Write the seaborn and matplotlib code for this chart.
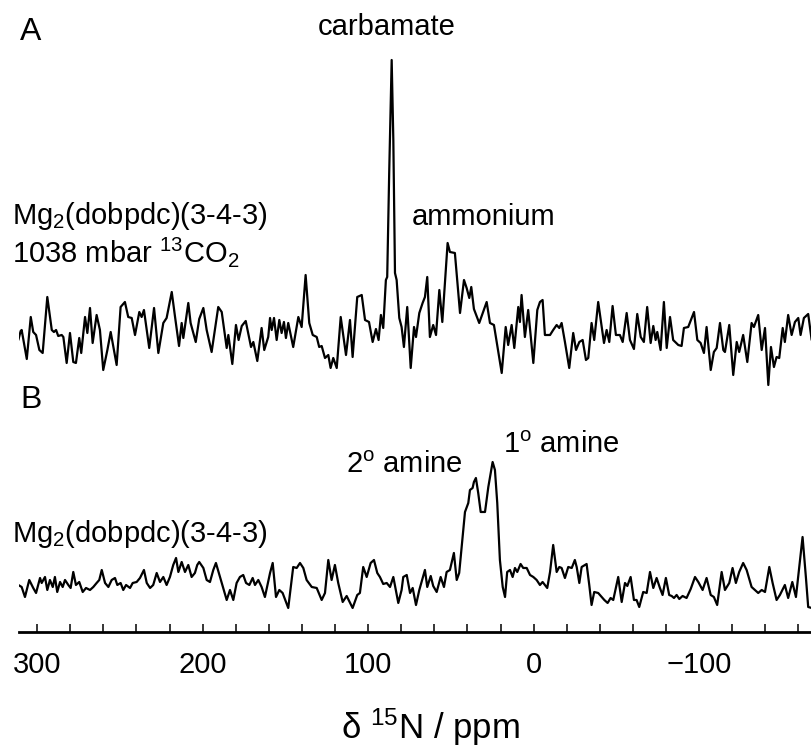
import numpy as np
import pandas as pd
import matplotlib
matplotlib.use("Agg")
import matplotlib.pyplot as plt
import seaborn as sns
from matplotlib.ticker import MultipleLocator

# ---------------- data ----------------
# Spectrum A: Mg2(dobpdc)(3-4-3) under 1038 mbar 13CO2
ppm_a = [311.4, 310.0, 309.4, 306.3, 303.9, 302.4, 300.7, 298.7, 296.7, 293.9,
         291.2, 289.9, 288.6, 287.3, 285.2, 284.2, 282.2, 280.2, 278.2, 276.6,
         274.6, 273.4, 271.1, 269.7, 268.1, 266.5, 264.1, 262.1, 260.1, 257.6,
         255.6, 252.0, 249.6, 247.0, 245.0, 242.9, 240.9, 238.3, 236.9, 235.5,
         232.3, 229.4, 226.8, 223.8, 221.8, 218.7, 216.7, 214.3, 212.7, 211.7,
         208.7, 207.3, 204.2, 202.1, 199.6, 197.6, 194.6, 190.6, 188.5, 185.5,
         184.5, 182.1, 179.9, 178.3, 176.4, 174.0, 170.8, 169.4, 167.0, 164.4,
         162.8, 160.4, 159.3, 158.3, 156.9, 155.3, 153.7, 152.3, 150.9, 149.7,
         148.3, 145.3, 142.2, 140.2, 137.8, 135.6, 133.5, 131.1, 129.6, 128.1,
         126.1, 124.1, 122.7, 121.1, 119.0, 116.6, 113.4, 111.0, 109.4, 106.6,
         103.9, 101.9, 99.5, 97.3, 95.3, 93.7, 92.3, 90.9, 89.3, 88.5,
         87.3, 85.8, 84.8, 83.8, 82.8, 81.2, 79.8, 78.4, 76.4, 74.3,
         72.3, 71.1, 69.1, 67.1, 65.7, 64.3, 62.7, 60.7, 59.0, 57.0,
         55.2, 52.0, 50.6, 47.6, 44.5, 42.1, 40.5, 38.9, 37.7, 36.1,
         32.9, 28.4, 26.4, 24.0, 19.3, 16.9, 15.4, 13.3, 11.7, 9.3,
         8.3, 7.3, 5.3, 3.3, 0.2, -2.2, -3.8, -5.4, -6.8, -9.9,
         -11.8, -13.9, -15.5, -16.9, -18.9, -21.5, -23.9, -25.6, -27.6, -29.6,
         -31.6, -33.0, -35.0, -36.6, -39.0, -42.5, -44.1, -45.7, -47.7, -49.7,
         -52.1, -53.8, -56.2, -58.2, -60.6, -62.6, -64.7, -66.6, -68.6, -70.7,
         -72.3, -73.7, -74.7, -76.7, -78.7, -80.4, -82.4, -84.3, -87.4, -89.4,
         -90.8, -93.4, -96.9, -98.9, -100.9, -102.9, -104.5, -107.0, -108.9, -110.6,
         -112.6, -114.6, -115.6, -118.2, -120.6, -122.7, -124.2, -126.6, -129.1, -131.7,
         -133.1, -135.7, -137.8, -139.8, -141.8, -143.4, -145.2, -146.8, -148.4, -150.5,
         -151.8, -153.8, -155.9, -157.9, -159.9, -161.3, -163.3, -165.9, -168.0]
int_a = [30, 39, 40, 11, 53, 38, 35, 20, 17, 73,
         40, 38, 40, 34, 35, 33, 7, 37, 8, 7,
         32, 17, 53, 37, 62, 27, 55, 40, 0, 20,
         38, 5, 63, 68, 53, 52, 35, 58, 53, 60,
         22, 62, 17, 47, 52, 78, 53, 24, 47, 32,
         67, 47, 28, 51, 62, 40, 18, 63, 58, 22,
         35, 6, 45, 30, 44, 49, 23, 28, 9, 42,
         20, 33, 52, 40, 52, 30, 50, 37, 48, 32,
         47, 23, 53, 43, 95, 47, 35, 33, 23, 24,
         12, 15, 2, 12, 2, 53, 15, 50, 13, 73,
         75, 50, 48, 28, 41, 30, 55, 42, 90, 93,
         197, 310, 230, 97, 90, 52, 43, 23, 63, 2,
         43, 33, 57, 67, 73, 93, 33, 45, 35, 80,
         48, 127, 118, 117, 57, 90, 82, 72, 83, 61,
         47, 68, 47, 45, -3, 43, 25, 45, 22, 63,
         48, 75, 33, 60, 7, 60, 68, 70, 35, 35,
         40, 45, 42, 47, 28, 2, 37, 20, 28, 30,
         10, 12, 47, 30, 68, 27, 40, 28, 64, 35,
         35, 28, 57, 30, 21, 56, 33, 28, 63, 27,
         44, 30, 38, 20, 68, 22, 53, 30, 25, 24,
         42, 43, 58, 30, 27, 17, 43, 0, 18, 22,
         47, 20, 18, 45, -5, 28, 18, 35, 8, 47,
         43, 55, 20, 42, -15, 23, 3, 13, 12, 42,
         28, 55, 35, 48, 52, 35, 52, 56, 30]

# Spectrum B: Mg2(dobpdc)(3-4-3)
ppm_b = [311.4, 309.4, 307.4, 304.8, 302.4, 300.7, 298.3, 297.3, 295.3, 293.9,
         292.3, 290.6, 289.3, 287.9, 286.2, 284.6, 283.2, 281.2, 279.8, 278.2,
         276.6, 274.6, 272.5, 270.5, 268.1, 266.1, 264.1, 262.5, 261.0, 259.0,
         257.0, 255.0, 253.0, 251.6, 249.6, 248.0, 246.3, 243.9, 242.3, 239.9,
         237.9, 235.5, 233.8, 231.8, 229.9, 227.8, 225.8, 223.8, 221.8, 219.8,
         217.8, 216.1, 214.7, 212.7, 210.7, 208.7, 206.7, 204.7, 203.3, 202.1,
         199.6, 197.6, 195.6, 193.6, 192.0, 189.5, 187.6, 185.5, 183.5, 181.5,
         179.5, 177.5, 175.5, 173.8, 171.8, 169.8, 168.4, 166.4, 164.4, 162.4,
         159.3, 157.7, 155.7, 153.7, 151.7, 148.3, 145.3, 143.2, 141.2, 139.2,
         137.2, 134.1, 131.1, 128.1, 126.1, 124.1, 122.1, 120.1, 118.1, 115.4,
         113.0, 109.4, 106.6, 105.0, 103.0, 100.9, 98.5, 96.5, 94.5, 92.9,
         90.9, 88.8, 86.8, 84.8, 81.8, 79.8, 78.8, 76.7, 74.7, 73.1,
         71.1, 69.1, 65.7, 64.3, 62.2, 60.7, 58.6, 56.2, 54.2, 52.6,
         50.6, 48.2, 46.5, 45.0, 43.5, 41.5, 39.5, 38.5, 36.9, 36.1,
         34.9, 33.5, 32.0, 29.4, 27.4, 24.8, 23.4, 22.0, 20.4, 18.7,
         17.3, 16.0, 14.3, 12.7, 11.3, 9.9, 7.9, 6.3, 4.2, 2.2,
         0.2, -1.8, -3.8, -5.4, -8.2, -9.9, -11.8, -13.9, -15.5, -16.9,
         -18.9, -20.9, -23.0, -24.9, -26.0, -27.6, -29.0, -32.0, -33.6, -35.0,
         -36.6, -39.0, -41.1, -42.7, -44.7, -46.5, -48.1, -51.1, -53.2, -55.2,
         -56.6, -58.6, -60.6, -62.2, -63.8, -66.2, -68.3, -70.3, -72.3, -74.3,
         -76.3, -77.9, -79.9, -81.9, -83.4, -84.8, -86.4, -88.0, -90.0, -92.4,
         -94.9, -97.5, -99.5, -102.1, -104.5, -107.0, -108.9, -110.9, -113.6, -115.6,
         -118.2, -120.2, -122.2, -124.2, -126.6, -128.7, -131.7, -133.7, -135.7, -137.8,
         -139.8, -142.4, -144.4, -146.8, -148.8, -151.8, -153.8, -156.3, -158.5, -160.5,
         -162.5, -164.5, -165.9, -168.0]
int_b = [25, 23, 13, 30, 22, 17, 32, 27, 33, 20,
         30, 23, 33, 18, 28, 23, 30, 25, 22, 38,
         25, 28, 18, 22, 20, 23, 27, 30, 40, 27,
         23, 30, 32, 25, 27, 20, 25, 22, 27, 28,
         32, 40, 27, 22, 25, 37, 28, 33, 25, 33,
         45, 52, 38, 48, 38, 45, 33, 37, 45, 48,
         42, 30, 28, 40, 47, 33, 22, 10, 20, 10,
         27, 33, 35, 27, 25, 32, 25, 30, 23, 13,
         37, 47, 13, 20, 17, 2, 43, 42, 47, 42,
         30, 23, 22, 10, 17, 50, 30, 45, 27, 8,
         14, 2, 15, 17, 43, 33, 47, 50, 37, 33,
         26, 27, 23, 33, 7, 20, 33, 35, 17, 22,
         5, 20, 40, 23, 34, 24, 18, 33, 23, 38,
         40, 57, 30, 37, 63, 98, 107, 120, 122, 128,
         132, 117, 98, 98, 123, 148, 140, 107, 50, 23,
         13, 38, 40, 33, 42, 38, 46, 42, 42, 35,
         33, 30, 25, 28, 22, 38, 65, 38, 43, 42,
         32, 43, 42, 50, 43, 27, 43, 46, 25, 5,
         18, 17, 13, 10, 7, 12, 10, 33, 8, 27,
         24, 33, 10, 10, 3, 18, 17, 38, 22, 32,
         22, 15, 32, 15, 14, 12, 15, 11, 14, 12,
         21, 33, 28, 20, 32, 15, 13, 5, 38, 20,
         27, 42, 27, 38, 47, 40, 23, 20, 17, 20,
         18, 43, 27, 10, 15, 25, 12, 28, 13, 43,
         73, 33, 3, 2]

major_ticks = [300, 200, 100, 0, -100]
xlabel_text = "δ $^{15}$N / ppm"

# ---------------- style ----------------
sns.set_style("white")
plt.rcParams["font.family"] = ["Liberation Sans", "DejaVu Sans"]
plt.rcParams["mathtext.fontset"] = "custom"
plt.rcParams["mathtext.rm"] = "Liberation Sans"
plt.rcParams["mathtext.it"] = "Liberation Sans:italic"
plt.rcParams["mathtext.bf"] = "Liberation Sans:bold"
plt.rcParams["mathtext.default"] = "rm"

OFFSET_A = 240

fig = plt.figure(figsize=(8.12, 7.48), dpi=100)
ax = fig.add_axes([0.023, 0.1551, 0.977, 0.8449])

df_a = pd.DataFrame({"ppm": ppm_a, "y": np.array(int_a, dtype=float) + OFFSET_A})
df_b = pd.DataFrame({"ppm": ppm_b, "y": np.array(int_b, dtype=float)})

sns.lineplot(data=df_a, x="ppm", y="y", color="black", linewidth=1.6,
             estimator=None, sort=False, ax=ax)
sns.lineplot(data=df_b, x="ppm", y="y", color="black", linewidth=1.6,
             estimator=None, sort=False, ax=ax)

ax.set_xlim(311.2, -168.2)
ax.set_ylim(-22, 610)
for s in ["top", "left", "right"]:
    ax.spines[s].set_visible(False)
ax.spines["bottom"].set_linewidth(2.0)
ax.spines["bottom"].set_color("black")
ax.set_yticks([])
ax.set_ylabel("")
ax.set_xticks(major_ticks)
ax.xaxis.set_minor_locator(MultipleLocator(20))
ax.tick_params(axis="x", which="both", direction="in", length=5.5, width=1.1,
               color="black", bottom=True, top=False)
ax.tick_params(axis="x", which="major", labelsize=21, pad=14, labelcolor="black")

ax.set_xlabel(xlabel_text, fontsize=25, color="black")
ax.xaxis.set_label_coords(0.5185, -0.150)
ax.xaxis.label.set_va("center")

# ---------------- annotations ----------------
def ftext(xp, yp, s, **kw):
    fig.text(xp / 812, 1 - yp / 748, s, color="black", **kw)

ftext(20, 40, "A", fontsize=23, ha="left", va="baseline")
ftext(20, 408, "B", fontsize=23, ha="left", va="baseline")
ftext(387, 35, "carbamate", fontsize=21, ha="center", va="baseline")
ftext(412, 225, "ammonium", fontsize=21, ha="left", va="baseline")
ftext(12, 224, "Mg$_2$(dobpdc)(3-4-3)", fontsize=21, ha="left", va="baseline")
ftext(12, 262, "1038 mbar $^{13}$CO$_2$", fontsize=21, ha="left", va="baseline")
ftext(12, 542, "Mg$_2$(dobpdc)(3-4-3)", fontsize=21, ha="left", va="baseline")
ftext(346, 473, "2$^{\\mathrm{o}}$ amine", fontsize=21, ha="left", va="baseline")
ftext(503, 453, "1$^{\\mathrm{o}}$ amine", fontsize=21, ha="left", va="baseline")

fig.savefig("out.png", dpi=100)
